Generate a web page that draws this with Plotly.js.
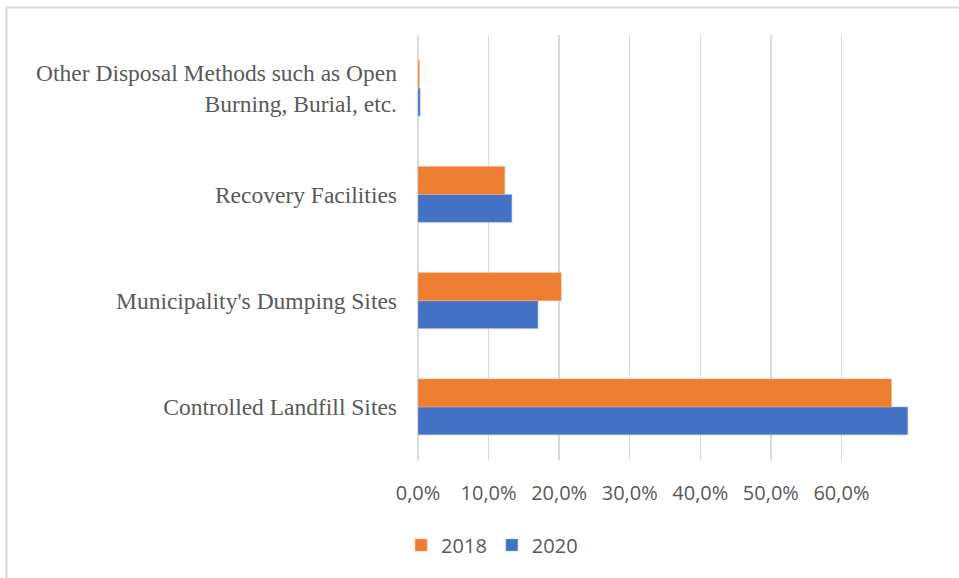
<!DOCTYPE html>
<html>
<head>
<meta charset="utf-8">
<script src="https://cdn.plot.ly/plotly-3.0.1.min.js"></script>
<style>html,body{margin:0;padding:0;background:#fff;}#chart{width:959px;height:578px;}</style>
</head>
<body>
<div id="chart"></div>
<script>
const categories = [
  "Controlled Landfill Sites",
  "Municipality's Dumping Sites",
  "Recovery Facilities",
  "Other Disposal Methods such as Open<br>Burning, Burial, etc."
];
const values2018 = [0.671, 0.203, 0.123, 0.002];
const values2020 = [0.694, 0.170, 0.133, 0.003];
const tickValues = [0, 0.1, 0.2, 0.3, 0.4, 0.5, 0.6];
const tickLabels = ["0,0%", "10,0%", "20,0%", "30,0%", "40,0%", "50,0%", "60,0%"];

const traces = [
  {type: 'bar', orientation: 'h', name: '2020', y: categories, x: values2020,
   marker: {color: '#4472C4', line: {color: '#9DB5E4', width: 0.5}}},
  {type: 'bar', orientation: 'h', name: '2018', y: categories, x: values2018,
   marker: {color: '#ED7D31', line: {color: '#F4B183', width: 0.5}}}
];

const layout = {
  width: 959, height: 578,
  margin: {l: 418, r: 47, t: 35, b: 118},
  paper_bgcolor: '#ffffff', plot_bgcolor: '#ffffff',
  barmode: 'group', bargap: 0.474, bargroupgap: 0,
  showlegend: true,
  legend: {orientation: 'h', traceorder: 'reversed', x: 0.15, xanchor: 'center',
           y: -0.2, yanchor: 'middle', itemwidth: 30,
           font: {family: 'Open Sans, Liberation Sans, sans-serif', size: 20, color: '#595959'}},
  xaxis: {range: [0, 0.70], tickvals: tickValues, ticktext: tickLabels,
          showgrid: true, gridcolor: '#D9D9D9', gridwidth: 1.5,
          zeroline: true, zerolinecolor: '#D9D9D9', zerolinewidth: 1.5,
          showline: false, ticks: '', ticklabelstandoff: 19,
          tickfont: {family: 'Open Sans, Liberation Sans, sans-serif', size: 20, color: '#595959'},
          fixedrange: true},
  yaxis: {type: 'category', showgrid: false, zeroline: false, showline: false, ticks: '',
          ticklabelstandoff: 20,
          tickfont: {family: 'Liberation Serif, Times New Roman, serif', size: 23.5, color: '#595959'},
          fixedrange: true},
  shapes: [{type: 'rect', xref: 'paper', yref: 'paper',
            x0: -0.833, x1: 1.3, y0: -0.5, y1: 1.0647,
            line: {color: '#D9D9D9', width: 2}, fillcolor: 'rgba(0,0,0,0)', layer: 'below'}]
};

Plotly.newPlot('chart', traces, layout, {displayModeBar: false, staticPlot: true});
</script>
</body>
</html>
